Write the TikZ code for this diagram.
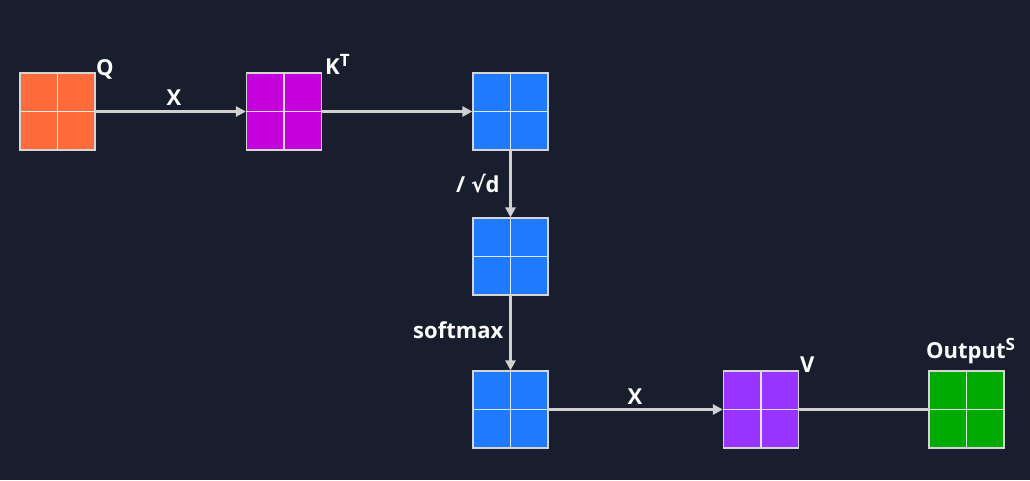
\documentclass[tikz,border=0pt]{standalone}
\usepackage{fontspec}
\setmainfont{Open Sans}
\newfontfamily\symfont{DejaVu Sans}
\usetikzlibrary{arrows.meta}
\definecolor{bg}{HTML}{181E2D}
\definecolor{qcol}{HTML}{FF6B3B}
\definecolor{kcol}{HTML}{C400DC}
\definecolor{bcol}{HTML}{1F7AFF}
\definecolor{vcol}{HTML}{9933FF}
\definecolor{gcol}{HTML}{00AA00}
\definecolor{linecol}{HTML}{D0D0D0}
\tikzset{
  mat/.style={draw=linecol!90!white, line width=1.2pt, minimum width=75pt, minimum height=77pt, inner sep=0pt, fill=#1,
    path picture={\draw[white!85!#1, line width=1.4pt] (path picture bounding box.north) -- (path picture bounding box.south)
      (path picture bounding box.west) -- (path picture bounding box.east);}},
  conn/.style={draw=linecol, line width=2.6pt},
  arr/.style={conn, -{Triangle[length=10pt,width=10pt]}},
  lbl/.style={text=white, font=\bfseries\fontsize{22}{26}\selectfont, inner sep=0pt}
}
\begin{document}
\begin{tikzpicture}[x=1pt,y=-1pt]
\fill[bg] (0,0) rectangle (1030,480);
\useasboundingbox (0,0) rectangle (1030,480);
\node[mat=qcol] (q) at (57.5,111.5) {};
\node[mat=kcol] (k) at (284,111.5) {};
\node[mat=bcol] (b1) at (510.5,111.5) {};
\node[mat=bcol] (b2) at (510.5,256.5) {};
\node[mat=bcol] (b3) at (510.5,409.5) {};
\node[mat=vcol] (v) at (761,409.5) {};
\node[mat=gcol] (o) at (966.5,409.5) {};
\draw[arr] (q.east) -- (k.west);
\draw[arr] (k.east) -- (b1.west);
\draw[arr] (b1.south) -- (b2.north);
\draw[arr] (b2.south) -- (b3.north);
\draw[arr] (b3.east) -- (v.west);
\draw[conn] (v.east) -- (o.west);
\node[lbl, anchor=base west] (lq) at (96,75) {Q};
\node[lbl, anchor=base] (lx1) at (174,105) {X};
\node[lbl, anchor=base west] (lk) at (325,74) {K{\fontsize{17}{20}\selectfont\raisebox{0.45em}{T}}};
\node[lbl, anchor=base west] (ld) at (456,192) {/ {\symfont √}d};
\node[lbl, anchor=base west] (ls) at (413,338) {softmax};
\node[lbl, anchor=base] (lx2) at (635,404) {X};
\node[lbl, anchor=base west] (lv) at (800,372) {V};
\node[lbl, anchor=base west] (lo) at (926,358) {Output{\fontsize{17}{20}\selectfont\raisebox{0.45em}{S}}};
\end{tikzpicture}
\end{document}
